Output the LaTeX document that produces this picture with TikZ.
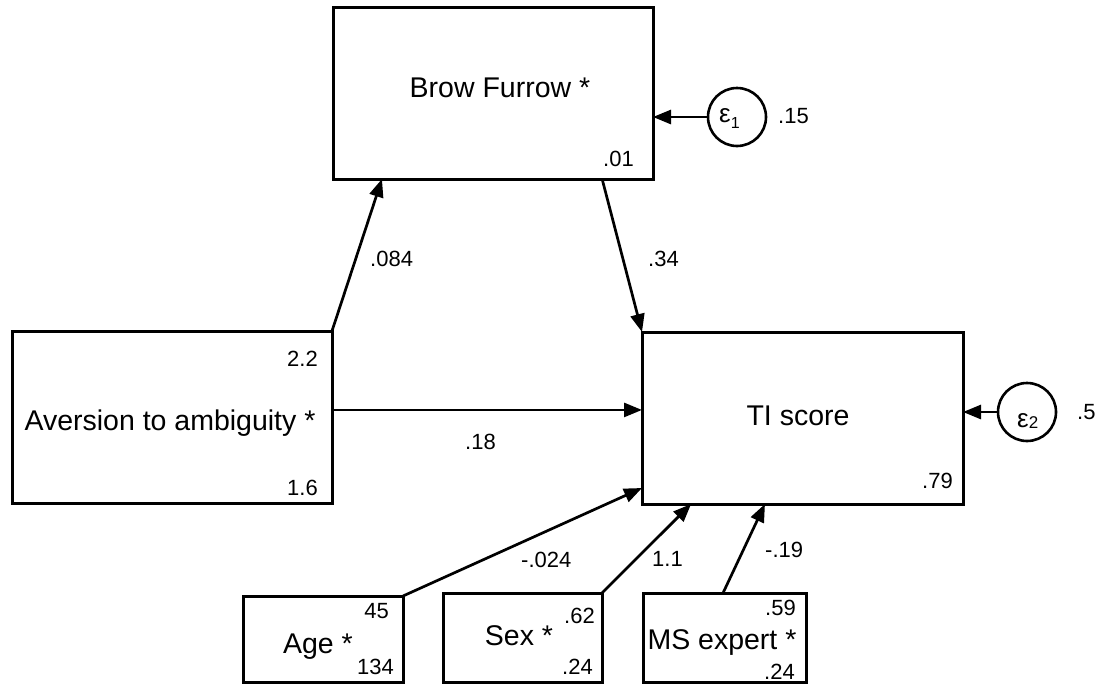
\documentclass[tikz,border=0pt]{standalone}
\usepackage{fontspec}
\setmainfont{Liberation Sans}
\usetikzlibrary{arrows.meta,calc}
\begin{document}
\begin{tikzpicture}[x=1pt,y=-1pt,
  box/.style={draw, rectangle, line width=3pt, inner sep=0pt, outer sep=0pt},
  err/.style={draw, circle, line width=2.6pt, inner sep=0pt, outer sep=0pt, minimum size=58pt},
  lab/.style={font=\fontsize{28.5}{32}\selectfont, inner sep=0pt, anchor=base},
  numr/.style={font=\fontsize{22}{25}\selectfont, inner sep=0pt, anchor=base east},
  numl/.style={font=\fontsize{22}{25}\selectfont, inner sep=0pt, anchor=base west},
  epsl/.style={font=\fontsize{26}{29}\selectfont, inner sep=0pt, anchor=base west},
  arr/.style={line width=2.7pt, -{Triangle[length=18pt,width=14pt]}}]
\useasboundingbox (0,0) rectangle (1095,686);
% boxes
\node[box, minimum width=320pt, minimum height=172pt] (brow) at (493,93) {};
\node[box, minimum width=320pt, minimum height=172pt] (aver) at (172,417) {};
\node[box, minimum width=321pt, minimum height=172pt] (ti) at (802.5,418) {};
\node[box, minimum width=160pt, minimum height=86pt] (age) at (323,639) {};
\node[box, minimum width=159pt, minimum height=89pt] (sex) at (522.5,637.5) {};
\node[box, minimum width=163pt, minimum height=89pt] (ms) at (724.5,637.5) {};
\node[err] (e1) at (737,117) {};
\node[err] (e2) at (1027,412) {};
% error labels
\node[epsl] (e1t) at (719,122) {ε\raisebox{-6pt}{\fontsize{16}{18}\selectfont 1}};
\node[epsl] (e2t) at (1017,427) {ε\raisebox{-1pt}{\fontsize{17}{19}\selectfont 2}};
% connectors
\draw[arr] (aver.north east) -- ($(brow.south west)!0.153!(brow.south east)$);
\draw[arr] ($(brow.south west)!0.841!(brow.south east)$) -- (ti.north west);
\draw[arr] ($(aver.north east)!0.459!(aver.south east)$) coordinate (avr) -- (avr -| ti.west);
\draw[arr] (age.north east) -- ($(ti.north west)!0.907!(ti.south west)$);
\draw[arr] (sex.north east) -- ($(ti.south west)!0.153!(ti.south east)$);
\draw[arr] ($(ms.north west)!0.491!(ms.north east)$) -- ($(ti.south west)!0.383!(ti.south east)$);
\draw[arr] (e1.west) -- (e1.west -| brow.east);
\draw[arr] (e2.west) -- (e2.west -| ti.east);
% main labels
\node[lab] (tbrow) at (500,97) {Brow Furrow *};
\node[lab] (tti) at (798,425) {TI score};
\node[lab] (taver) at (170,430) {Aversion to ambiguity *};
\node[lab] (tage) at (318,653) {Age *};
\node[lab] (tsex) at (519,645) {Sex *};
\node[lab] (tms) at (722,649) {MS expert *};
% numbers inside boxes
\node[numr] (n01) at (634,166) {.01};
\node[numr] (n22) at (318,366) {2.2};
\node[numr] (n16) at (318,495) {1.6};
\node[numr] (n79) at (953,488) {.79};
\node[numr] (n45) at (389,618) {45};
\node[numr] (n134) at (394,674) {134};
\node[numr] (n62) at (595,623) {.62};
\node[numr] (n24a) at (593,674) {.24};
\node[numr] (n59) at (796,615) {.59};
\node[numr] (n24b) at (795,679) {.24};
% path and variance labels
\node[numl] (n15) at (778,123) {.15};
\node[numl] (n5) at (1077,419) {.5};
\node[numl] (n084) at (370,266) {.084};
\node[numl] (n34) at (648,266) {.34};
\node[numl] (n18) at (465,449) {.18};
\node[numl] (n024) at (521,567) {-.024};
\node[numl] (n11) at (652,566) {1.1};
\node[numl] (n19) at (765,557) {-.19};
\end{tikzpicture}
\end{document}
